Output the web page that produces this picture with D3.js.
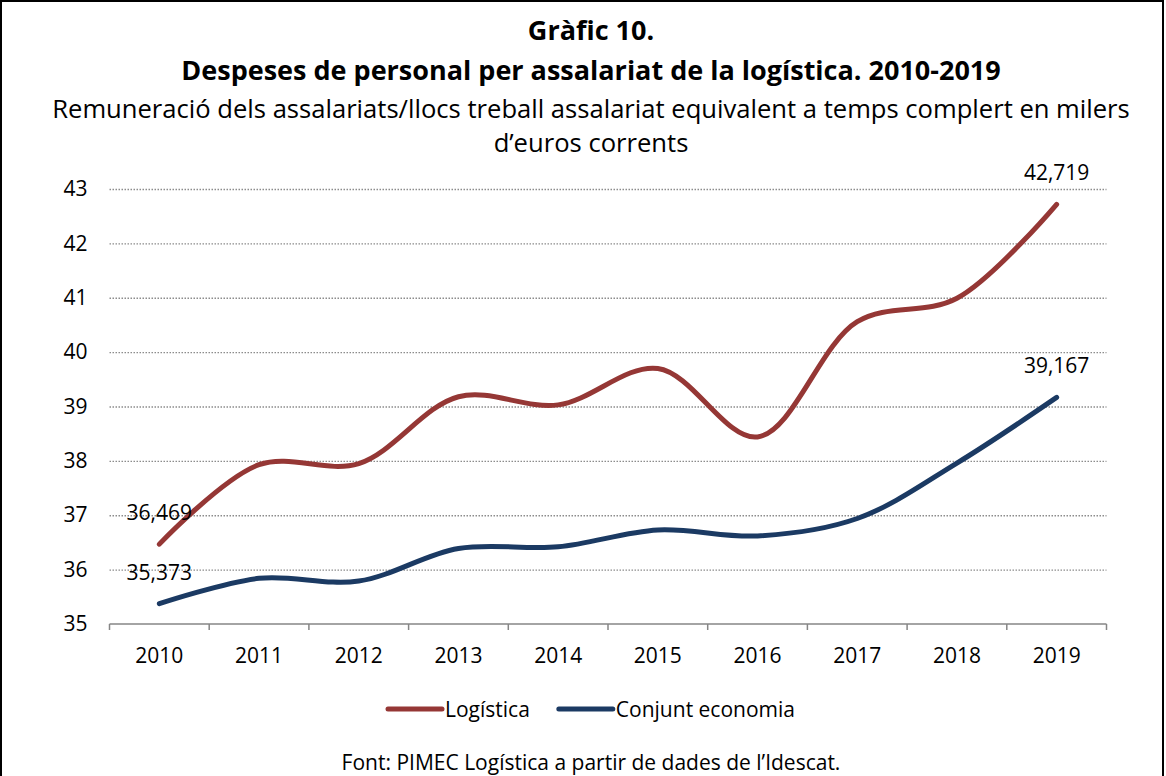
<!DOCTYPE html>
<html>
<head>
<meta charset="utf-8">
<script src="https://cdn.jsdelivr.net/npm/d3@7"></script>
<style>
  body { margin: 0; background: #fff; }
  svg { font-family: "Open Sans", "Noto Sans", sans-serif; }
</style>
</head>
<body>
<svg id="chart" width="1166" height="776"></svg>
<script>
// Data
const years = ["2010", "2011", "2012", "2013", "2014", "2015", "2016", "2017", "2018", "2019"];
const logistica = [36.469, 37.93, 37.95, 39.18, 39.03, 39.70, 38.44, 40.56, 40.99, 42.719];
const conjunt = [35.373, 35.84, 35.79, 36.39, 36.42, 36.73, 36.62, 36.94, 37.96, 39.167];
const yTicks = [35, 36, 37, 38, 39, 40, 41, 42, 43];
const seriesNames = ["Logística", "Conjunt economia"];
const seriesColors = ["#953735", "#1b3a63"];

const svg = d3.select("#chart");
const W = 1166;
const margin = { top: 189, right: 59.5, bottom: 152, left: 109.5 },
    width = W - margin.left - margin.right,
    height = 776 - margin.top - margin.bottom,
    g = svg.append("g").attr("transform", `translate(${margin.left},${margin.top})`);

// outer frame
svg.append("rect")
    .attr("x", 1).attr("y", 1).attr("width", 1162).attr("height", 800)
    .attr("fill", "none").attr("stroke", "#000").attr("stroke-width", 2);

// titles
const cx = 591;
svg.append("text").attr("x", cx).attr("y", 40).attr("text-anchor", "middle")
    .style("font-size", "27px").style("font-weight", "bold").text("Gràfic 10.");
svg.append("text").attr("x", cx).attr("y", 80).attr("text-anchor", "middle")
    .style("font-size", "27px").style("font-weight", "bold")
    .text("Despeses de personal per assalariat de la logística. 2010-2019");
svg.append("text").attr("x", cx).attr("y", 118).attr("text-anchor", "middle")
    .style("font-size", "25.6px")
    .text("Remuneració dels assalariats/llocs treball assalariat equivalent a temps complert en milers");
svg.append("text").attr("x", cx).attr("y", 152).attr("text-anchor", "middle")
    .style("font-size", "25.6px").text("d’euros corrents");

// scales
const x = d3.scaleBand().domain(years).range([0, width]);
const y = d3.scaleLinear().domain([35, 43]).range([height, 0]);

// grid
g.append("g").attr("class", "grid")
    .call(d3.axisLeft(y).tickValues(yTicks.slice(1)).tickSize(-width).tickFormat(""))
    .call(a => a.select(".domain").remove())
    .call(a => a.selectAll("line").attr("stroke", "#8c8c8c").attr("stroke-width", 1.3)
        .attr("stroke-dasharray", "1.5,1.5"));

// y axis labels
g.append("g")
    .call(d3.axisLeft(y).tickValues(yTicks).tickSize(0).tickPadding(22))
    .call(a => a.select(".domain").remove())
    .call(a => a.selectAll("text").style("font-size", "21px").attr("fill", "#000")
        .style("font-family", "'Open Sans', sans-serif"));

// x axis
const xAxis = g.append("g").attr("transform", `translate(0,${height})`);
xAxis.append("line").attr("x1", 0).attr("x2", width)
    .attr("stroke", "#868686").attr("stroke-width", 1.5);
xAxis.selectAll(".tk").data(d3.range(years.length + 1)).join("line")
    .attr("x1", i => i * x.step()).attr("x2", i => i * x.step())
    .attr("y1", 0).attr("y2", 6).attr("stroke", "#868686").attr("stroke-width", 1.5);
xAxis.selectAll(".lbl").data(years).join("text")
    .attr("x", d => x(d) + x.bandwidth() / 2).attr("y", 39)
    .attr("text-anchor", "middle").style("font-size", "21px").text(d => d);

// lines
const line = d3.line()
    .x((d, i) => x(years[i]) + x.bandwidth() / 2)
    .y(d => y(d))
    .curve(d3.curveCatmullRom.alpha(0.5));

[logistica, conjunt].forEach((s, k) => {
    g.append("path").datum(s)
        .attr("fill", "none").attr("stroke", seriesColors[k])
        .attr("stroke-width", 5).attr("stroke-linecap", "round").attr("stroke-linejoin", "round")
        .attr("d", line);
    // labels for first and last values
    [0, s.length - 1].forEach(i => {
        g.append("text")
            .attr("x", x(years[i]) + x.bandwidth() / 2)
            .attr("y", y(s[i]) - 24)
            .attr("text-anchor", "middle").style("font-size", "21px")
            .text(d3.format(".3f")(s[i]).replace(".", ","));
    });
});

// legend
const legend = svg.append("g").attr("transform", "translate(0,709)");
let lx = 388;
seriesNames.forEach((name, k) => {
    legend.append("line").attr("x1", lx).attr("x2", lx + 54).attr("y1", 0).attr("y2", 0)
        .attr("stroke", seriesColors[k]).attr("stroke-width", 5).attr("stroke-linecap", "round");
    const t = legend.append("text").attr("x", lx + 57).attr("y", 7.5)
        .style("font-size", "21px").text(name);
    lx += 57 + t.node().getComputedTextLength() + 29;
});

// source
svg.append("text").attr("x", cx).attr("y", 770).attr("text-anchor", "middle")
    .style("font-size", "21px").text("Font: PIMEC Logística a partir de dades de l’Idescat.");
</script>
</body>
</html>
